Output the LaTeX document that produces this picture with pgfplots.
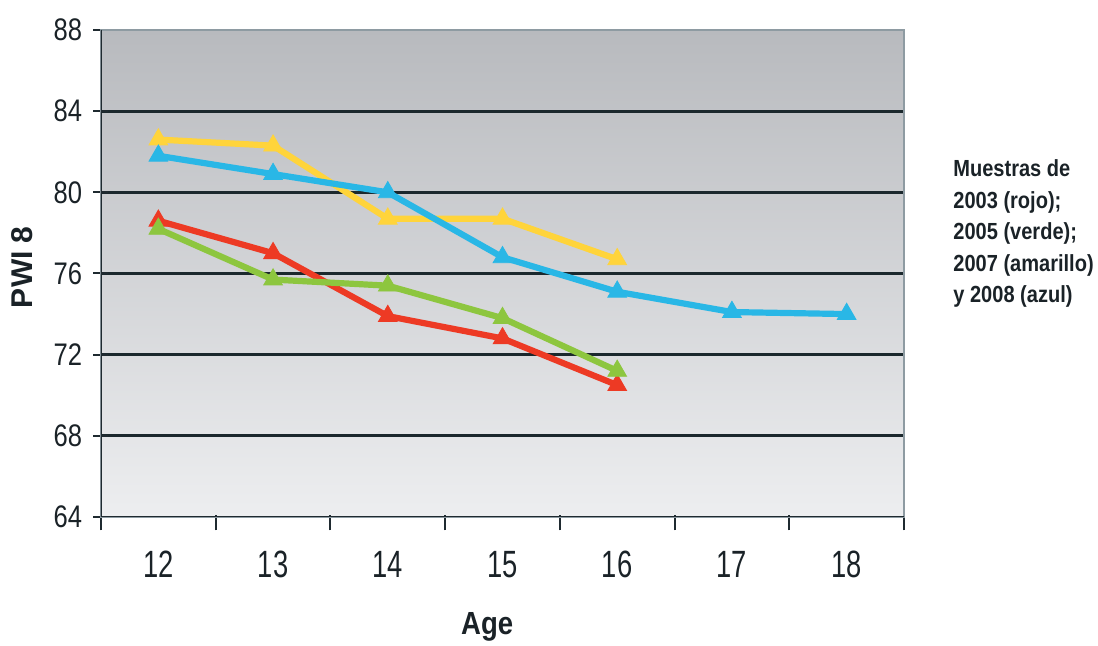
\documentclass[border=0pt]{standalone}
\usepackage{pgfplots}
\pgfplotsset{compat=1.18}
\usepackage{fontspec}
\setmainfont{Liberation Sans}
\newfontfamily\ytickfont[FakeStretch=0.82]{Liberation Sans}
\newfontfamily\xtickfont[FakeStretch=0.72]{Liberation Sans}
\newfontfamily\condfont[FakeStretch=0.86]{Liberation Sans}
\definecolor{cred}{HTML}{ED3A24}
\definecolor{cgreen}{HTML}{8DC63F}
\definecolor{cyellow}{HTML}{FFD43B}
\definecolor{cblue}{HTML}{29B7E6}
\definecolor{gridc}{HTML}{1B282D}
\definecolor{tickc}{HTML}{1F2A30}
\definecolor{labc}{HTML}{1A2227}
\definecolor{framec}{HTML}{8E9BA2}
\definecolor{bgtop}{HTML}{B8BABE}
\definecolor{bgbot}{HTML}{EDEEF0}
\begin{document}
\begin{tikzpicture}
\path[use as bounding box] (-50.5pt,-64.5pt) rectangle (498.5pt,258.5pt);
\begin{axis}[
  at={(0pt,0pt)}, anchor=south west,
  scale only axis, width=401.5pt, height=243.5pt,
  xmin=11.5, xmax=18.5, ymin=64, ymax=88,
  xtick pos=bottom, ytick pos=left,
  xtick={11.5,12.5,...,18.5},
  xticklabels={12,13,14,15,16,17,18,{}},
  ytick={64,68,...,88},
  minor ytick={68,72,...,84},
  yminorgrids=true,
  minor grid style={draw=gridc, line width=1.5pt},
  minor tick length=0pt,
  major tick length=7.5pt,
  tick align=center,
  tick style={draw=tickc, line width=1pt},
  x tick style={yshift=-3pt},
  axis background/.style={top color=bgtop, bottom color=bgbot},
  axis line style={draw=framec, line width=0.6pt},
  /pgf/number format/assume math mode=true,
  yticklabel style={font=\ytickfont\fontsize{15.6}{18}\selectfont, text=labc, anchor=east, inner sep=0pt, xshift=-5.5pt},
  xticklabel style={font=\xtickfont\fontsize{19}{22}\selectfont, text=labc, anchor=north, inner sep=0pt, xshift=28.68pt, yshift=-13pt},
  xlabel={Age}, ylabel={PWI 8},
  every axis x label/.style={at={(rel axis cs:0.481,0)}, anchor=base, yshift=-59pt, font=\condfont\bfseries\fontsize{16}{18}\selectfont, text=labc},
  every axis y label/.style={at={(rel axis cs:-0.0984,0.513)}, anchor=center, rotate=90, font=\bfseries\fontsize{15}{18}\selectfont, text=labc},
  every axis plot/.append style={line width=3.1pt, mark=triangle*, mark size=5.4pt, mark options={line width=0.4pt}},
]
\addplot[color=cred] coordinates {(12,78.6)(13,77.0)(14,73.9)(15,72.8)(16,70.5)};
\addplot[color=cgreen] coordinates {(12,78.2)(13,75.7)(14,75.4)(15,73.8)(16,71.2)};
\addplot[color=cyellow] coordinates {(12,82.6)(13,82.3)(14,78.7)(15,78.7)(16,76.7)};
\addplot[color=cblue] coordinates {(12,81.8)(13,80.9)(14,80.0)(15,76.8)(16,75.1)(17,74.1)(18,74.0)};
\draw[draw=tickc, line width=1pt] (rel axis cs:0,1) -- (rel axis cs:0,0);
\draw[draw=tickc, line width=1.4pt] (rel axis cs:0,0) -- (rel axis cs:1,0);
\end{axis}
\begin{scope}[every node/.style={anchor=base west, inner sep=0pt, text=labc, font=\condfont\bfseries\fontsize{11.65}{14}\selectfont}]
\node at (426pt,170.15pt) {Muestras de};
\node at (426pt,154.35pt) {2003 (rojo);};
\node at (426pt,138.5pt) {2005 (verde);};
\node at (426pt,122.7pt) {2007 (amarillo)};
\node at (426pt,107pt) {y 2008 (azul)};
\end{scope}
\end{tikzpicture}
\end{document}
